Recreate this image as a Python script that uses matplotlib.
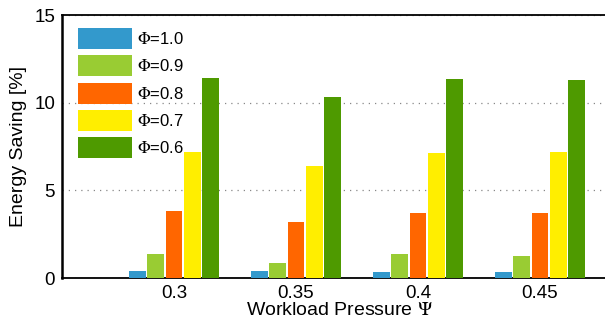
import numpy as np
import matplotlib
matplotlib.use("Agg")
import matplotlib.pyplot as plt

plt.rcParams['font.family'] = ['Liberation Sans', 'DejaVu Sans']
plt.rcParams['mathtext.fontset'] = 'stix'

# data
pressure = [0.3, 0.35, 0.4, 0.45]
phi_labels = [r'$\Phi$=1.0', r'$\Phi$=0.9', r'$\Phi$=0.8', r'$\Phi$=0.7', r'$\Phi$=0.6']
phi_10 = [0.40, 0.40, 0.34, 0.34]
phi_09 = [1.37, 0.86, 1.37, 1.25]
phi_08 = [3.82, 3.19, 3.71, 3.71]
phi_07 = [7.19, 6.39, 7.13, 7.19]
phi_06 = [11.41, 10.33, 11.35, 11.30]
series = [phi_10, phi_09, phi_08, phi_07, phi_06]
colors = ['#3399cc', '#99cc33', '#ff6600', '#ffee00', '#4e9a00']

fig = plt.figure(figsize=(6.05, 3.22), dpi=100)
# axes runs past the right edge of the picture (cropped figure)
ax = fig.add_axes([0.1025, 0.1366, 0.919, 0.8168])

x = np.array(pressure)
slot = 0.05 * 0.75 / 5
for i, (vals, c, lab) in enumerate(zip(series, colors, phi_labels)):
    off = (i - 2) * slot
    ax.bar(x + off, vals, width=slot * 0.92, color=c, label=lab, zorder=3)

ax.set_xlim(0.2541, 0.482)
ax.set_ylim(0, 15)
ax.set_yticks([0, 5, 10, 15])
ax.set_xticks(pressure)
ax.set_xticklabels(['0.3', '0.35', '0.4', '0.45'])
ax.tick_params(length=0, labelsize=13.5, pad=5)
ax.axhline(0, color='#aaaaaa', lw=1, zorder=2)
ax.yaxis.grid(True, linestyle=(0, (1, 4)), color='#888888', lw=0.9)
ax.set_axisbelow(True)
for s in ['left', 'bottom', 'top']:
    ax.spines[s].set_linewidth(1.3)
ax.spines['left'].set_linewidth(1.8)
ax.spines['right'].set_visible(False)

ax.set_ylabel('Energy Saving [%]', fontsize=14, labelpad=5)
ax.set_xlabel(r'Workload Pressure $\Psi$', fontsize=14, labelpad=0)

leg_anchor = (16 / 556, 1 - 13 / 263)
ax.legend(loc='upper left', frameon=False, fontsize=12, handlelength=3.24,
          handleheight=1.56, labelspacing=0.38, handletextpad=0.3,
          borderpad=0, borderaxespad=0, bbox_to_anchor=leg_anchor)

fig.savefig('out.png', dpi=100)
